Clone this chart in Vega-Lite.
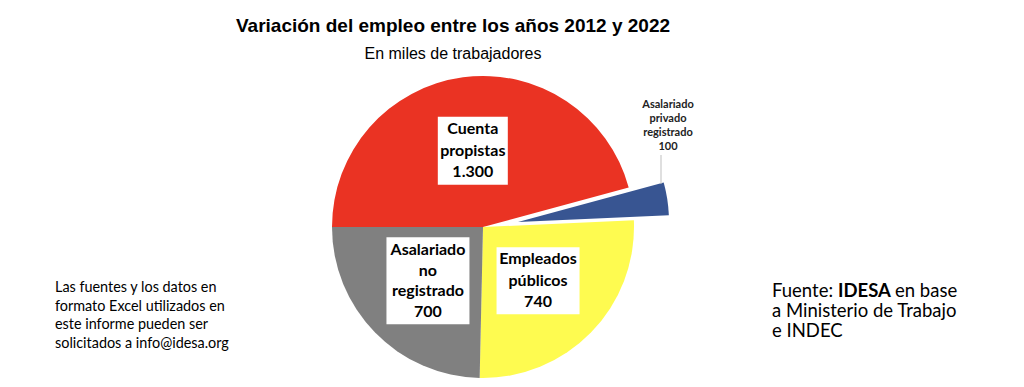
{
  "$schema": "https://vega.github.io/schema/vega-lite/v6.json",
  "width": 800,
  "height": 300,
  "autosize": {"type": "none"},
  "padding": {"left": 83, "top": 77, "right": 141, "bottom": 10},
  "background": "white",
  "config": {"view": {"stroke": null}},
  "title": {
    "text": "Variación del empleo entre los años 2012 y 2022",
    "subtitle": "En miles de trabajadores",
    "font": "Liberation Sans",
    "fontSize": 19,
    "fontWeight": "bold",
    "color": "black",
    "subtitleFont": "Liberation Sans",
    "subtitleFontSize": 16,
    "subtitleColor": "black",
    "subtitlePadding": 10,
    "anchor": "middle",
    "dx": -30,
    "offset": 9
  },
  "data": {
    "values": [
      {"categoria": "Cuenta propistas", "valor": 1300, "orden": 1, "etiqueta": "Cuenta\npropistas\n1.300"},
      {"categoria": "Asalariado privado registrado", "valor": 100, "orden": 2, "etiqueta": "Asalariado\nprivado\nregistrado\n100"},
      {"categoria": "Empleados públicos", "valor": 740, "orden": 3, "etiqueta": "Empleados\npúblicos\n740"},
      {"categoria": "Asalariado no registrado", "valor": 700, "orden": 4, "etiqueta": "Asalariado\nno\nregistrado\n700"}
    ]
  },
  "layer": [
    {
      "mark": {"type": "arc", "radius": 151},
      "encoding": {
        "theta": {"field": "valor", "type": "quantitative", "stack": true, "scale": {"range": [4.712389, 10.995574]}},
        "order": {"field": "orden", "type": "quantitative"},
        "color": {
          "field": "categoria", "type": "nominal", "legend": null,
          "scale": {
            "domain": ["Cuenta propistas", "Asalariado privado registrado", "Empleados públicos", "Asalariado no registrado"],
            "range": ["#EA3323", "#385592", "#FEFB50", "#808080"]
          }
        },
        "fillOpacity": {
          "condition": {"test": "datum.categoria === 'Asalariado privado registrado'", "value": 0},
          "value": 1
        }
      }
    },
    {
      "mark": {"type": "arc", "radius": 151, "xOffset": 35, "yOffset": -5},
      "encoding": {
        "theta": {"field": "valor", "type": "quantitative", "stack": true, "scale": {"range": [4.712389, 10.995574]}},
        "order": {"field": "orden", "type": "quantitative"},
        "color": {"field": "categoria", "type": "nominal", "legend": null},
        "fillOpacity": {
          "condition": {"test": "datum.categoria === 'Asalariado privado registrado'", "value": 1},
          "value": 0
        }
      }
    },
    {
      "transform": [
        {"joinaggregate": [{"op": "sum", "field": "valor", "as": "total"}]},
        {"window": [{"op": "sum", "field": "valor", "as": "acum"}], "sort": [{"field": "orden"}], "frame": [null, 0]},
        {"calculate": "3*PI/2 + 2*PI*(datum.acum - datum.valor/2)/datum.total", "as": "angulo"},
        {"calculate": "77*sin(datum.angulo)", "as": "lx"},
        {"calculate": "77*cos(datum.angulo)", "as": "ly"},
        {"filter": "datum.categoria !== 'Asalariado privado registrado'"}
      ],
      "mark": {"type": "point", "filled": true, "opacity": 1, "color": "white", "strokeWidth": 0, "size": 10000},
      "encoding": {
        "x": {"field": "lx", "type": "quantitative", "axis": null, "scale": {"domain": [-400, 400], "nice": false, "zero": false}},
        "y": {"field": "ly", "type": "quantitative", "axis": null, "scale": {"domain": [-150, 150], "nice": false, "zero": false}},
        "shape": {
          "field": "categoria", "type": "nominal", "legend": null,
          "scale": {
            "domain": ["Cuenta propistas", "Empleados públicos", "Asalariado no registrado"],
            "range": ["M-0.7,-0.68H0.7V0.68H-0.7Z", "M-0.83,-0.67H0.83V0.67H-0.83Z", "M-0.83,-0.87H0.83V0.87H-0.83Z"]
          }
        }
      }
    },
    {
      "mark": {"type": "text", "font": "Lato", "fontWeight": "bold", "fontSize": 16, "lineHeight": 21.5, "lineBreak": "\n", "align": "center", "baseline": "middle", "color": "black", "dy": -21.5},
      "encoding": {
        "theta": {"field": "valor", "type": "quantitative", "stack": true, "scale": {"range": [4.712389, 10.995574]}},
        "order": {"field": "orden", "type": "quantitative"},
        "radius": {"value": 77},
        "text": {"field": "etiqueta", "type": "nominal"},
        "opacity": {
          "condition": {"test": "datum.categoria === 'Cuenta propistas' || datum.categoria === 'Empleados públicos'", "value": 1},
          "value": 0
        }
      }
    },
    {
      "mark": {"type": "text", "font": "Lato", "fontWeight": "bold", "fontSize": 16, "lineHeight": 20.7, "lineBreak": "\n", "align": "center", "baseline": "middle", "color": "black", "dy": -31},
      "encoding": {
        "theta": {"field": "valor", "type": "quantitative", "stack": true, "scale": {"range": [4.712389, 10.995574]}},
        "order": {"field": "orden", "type": "quantitative"},
        "radius": {"value": 77},
        "text": {"field": "etiqueta", "type": "nominal"},
        "opacity": {
          "condition": {"test": "datum.categoria === 'Asalariado no registrado'", "value": 1},
          "value": 0
        }
      }
    },
    {
      "transform": [{"filter": "datum.categoria === 'Asalariado privado registrado'"}],
      "mark": {"type": "text", "font": "Lato", "fontWeight": "bold", "fontSize": 11, "lineHeight": 14, "lineBreak": "\n", "align": "center", "baseline": "middle", "color": "#222222", "dy": -21},
      "encoding": {
        "x": {"datum": 185, "type": "quantitative", "scale": {"domain": [-400, 400], "nice": false, "zero": false}},
        "y": {"datum": 101, "type": "quantitative", "scale": {"domain": [-150, 150], "nice": false, "zero": false}},
        "text": {"field": "etiqueta", "type": "nominal"}
      }
    },
    {
      "transform": [{"filter": "datum.categoria === 'Asalariado privado registrado'"}],
      "mark": {"type": "rule", "color": "#BFBFBF", "strokeWidth": 1},
      "encoding": {
        "x": {"datum": 178, "type": "quantitative", "scale": {"domain": [-400, 400], "nice": false, "zero": false}},
        "y": {"datum": 72, "type": "quantitative", "scale": {"domain": [-150, 150], "nice": false, "zero": false}},
        "y2": {"datum": 43}
      }
    },
    {
      "data": {"values": [{"nota": "Las fuentes y los datos en\nformato Excel utilizados en\neste informe pueden ser\nsolicitados a info@idesa.org"}]},
      "mark": {"type": "text", "font": "Lato", "fontSize": 14.4, "lineHeight": 18.7, "lineBreak": "\n", "align": "left", "baseline": "middle", "color": "black", "dy": -28},
      "encoding": {
        "x": {"datum": -428, "type": "quantitative", "scale": {"domain": [-400, 400], "nice": false, "zero": false}},
        "y": {"datum": -89, "type": "quantitative", "scale": {"domain": [-150, 150], "nice": false, "zero": false}},
        "text": {"field": "nota", "type": "nominal"}
      }
    },
    {
      "data": {"values": [{"nota": "Fuente:\na Ministerio de Trabajo\ne INDEC"}]},
      "mark": {"type": "text", "font": "Lato", "fontSize": 18.5, "lineHeight": 20, "lineBreak": "\n", "align": "left", "baseline": "middle", "color": "black"},
      "encoding": {
        "x": {"datum": 289, "type": "quantitative", "scale": {"domain": [-400, 400], "nice": false, "zero": false}},
        "y": {"datum": -64, "type": "quantitative", "scale": {"domain": [-150, 150], "nice": false, "zero": false}},
        "text": {"field": "nota", "type": "nominal"}
      }
    },
    {
      "data": {"values": [{"nota": "IDESA"}]},
      "mark": {"type": "text", "font": "Lato", "fontWeight": "bold", "fontSize": 18.5, "align": "left", "baseline": "middle", "color": "black"},
      "encoding": {
        "x": {"datum": 355, "type": "quantitative", "scale": {"domain": [-400, 400], "nice": false, "zero": false}},
        "y": {"datum": -64, "type": "quantitative", "scale": {"domain": [-150, 150], "nice": false, "zero": false}},
        "text": {"field": "nota", "type": "nominal"}
      }
    },
    {
      "data": {"values": [{"nota": "en base"}]},
      "mark": {"type": "text", "font": "Lato", "fontSize": 18.5, "align": "left", "baseline": "middle", "color": "black"},
      "encoding": {
        "x": {"datum": 412, "type": "quantitative", "scale": {"domain": [-400, 400], "nice": false, "zero": false}},
        "y": {"datum": -64, "type": "quantitative", "scale": {"domain": [-150, 150], "nice": false, "zero": false}},
        "text": {"field": "nota", "type": "nominal"}
      }
    }
  ]
}
